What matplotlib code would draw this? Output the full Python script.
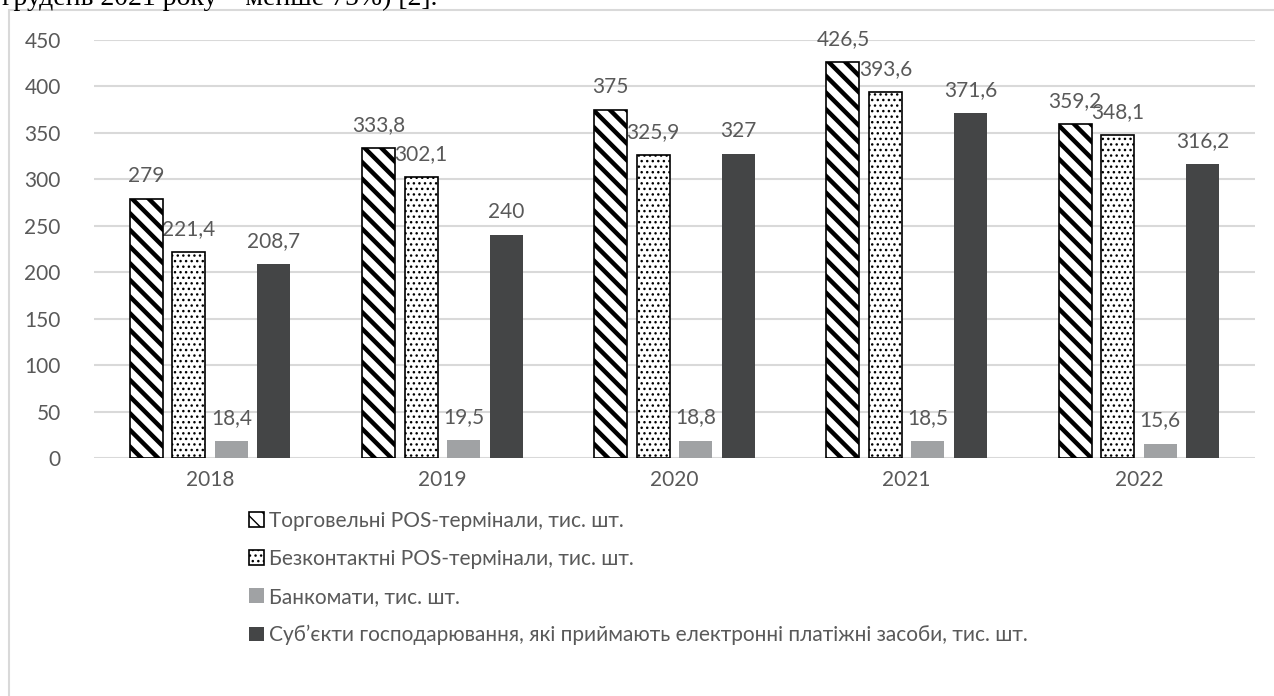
import matplotlib
matplotlib.use("Agg")
import matplotlib.pyplot as plt
import numpy as np
from matplotlib.patches import Rectangle, Patch

plt.rcParams['font.family'] = ['Lato', 'DejaVu Sans']

years = ['2018', '2019', '2020', '2021', '2022']
series_names = [
    'Торговельні POS-термінали, тис. шт.',
    'Безконтактні POS-термінали, тис. шт.',
    'Банкомати, тис. шт.',
    'Суб’єкти господарювання, які приймають електронні платіжні засоби, тис. шт.',
]
trade_pos = [279, 333.8, 375, 426.5, 359.2]
contactless_pos = [221.4, 302.1, 325.9, 393.6, 348.1]
atms = [18.4, 19.5, 18.8, 18.5, 15.6]
merchants = [208.7, 240, 327, 371.6, 316.2]
yticks = [0, 50, 100, 150, 200, 250, 300, 350, 400, 450]

W, H = 1274, 696
fig = plt.figure(figsize=(W / 100, H / 100), dpi=100)
fig.patch.set_facecolor('white')

# line of the surrounding text above the chart (only its lower edge lies in view)
fig.text(2 / W, 1 - 5 / H, 'грудень 2021 року – менше 75%) [2].',
         fontsize=20, family=['Liberation Serif', 'DejaVu Serif'],
         color='black', ha='left', va='baseline')

# chart area frame
fig.patches.append(Rectangle((9 / W, -0.05), 1.2, 1 - 10 / H + 0.05,
                             transform=fig.transFigure, fill=False,
                             edgecolor='#d9d9d9', lw=1.5, zorder=1))

ax = fig.add_axes([94 / W, 1 - 458 / H, (1255 - 94) / W, (458 - 40) / H])
ax.set_facecolor('none')

x = np.arange(len(years))
bw = 0.142
step = 0.183
offsets = np.array([-1.5, -0.5, 0.5, 1.5]) * step

text_col = '#595959'
styles = [
    dict(facecolor='white', edgecolor='black', hatch='\\\\', linewidth=1.2),
    dict(facecolor='white', edgecolor='black', hatch='...', linewidth=1.2),
    dict(facecolor='#a0a2a4', edgecolor='none', linewidth=0),
    dict(facecolor='#444546', edgecolor='none', linewidth=0),
]
data = [trade_pos, contactless_pos, atms, merchants]
hatch_lw = [3.2, 1.0, 1, 1]

handles = []
for i, (vals, st) in enumerate(zip(data, styles)):
    bars = ax.bar(x + offsets[i], vals, bw, zorder=3, **st)
    for b in bars:
        if 'hatch' in st:
            try:
                b.set_hatch_linewidth(hatch_lw[i])
            except AttributeError:
                plt.rcParams['hatch.linewidth'] = hatch_lw[i]
    for xi, v in zip(x + offsets[i], vals):
        ax.annotate(f'{v:g}'.replace('.', ','), (xi, v), xytext=(0, 13),
                    textcoords='offset pixels', ha='center', va='bottom',
                    fontsize=15, color=text_col, zorder=2)
    h = Patch(**st)
    if 'hatch' in st:
        try:
            h.set_hatch_linewidth(1.5 if i == 0 else 1.0)
        except AttributeError:
            pass
    handles.append(h)

ax.set_xlim(-0.5, len(years) - 0.5)
ax.set_ylim(0, 450)
ax.set_yticks(yticks)
ax.set_xticks(x)
ax.set_xticklabels(years)
ax.yaxis.grid(True, color='#d9d9d9', lw=1.5, zorder=0)
ax.set_axisbelow(True)
for s in ax.spines.values():
    s.set_visible(False)
ax.tick_params(axis='both', length=0, labelsize=15, labelcolor=text_col)
ax.tick_params(axis='y', pad=24)
ax.tick_params(axis='x', pad=9)

fig.legend(handles, series_names, loc='upper left',
           bbox_to_anchor=(249 / W, 1 - 511 / H), frameon=False,
           fontsize=15, labelcolor=text_col, handlelength=0.7,
           handleheight=0.7, handletextpad=0.25, labelspacing=0.86,
           borderaxespad=0, borderpad=0)

fig.savefig('out.png', dpi=100, facecolor='white')
